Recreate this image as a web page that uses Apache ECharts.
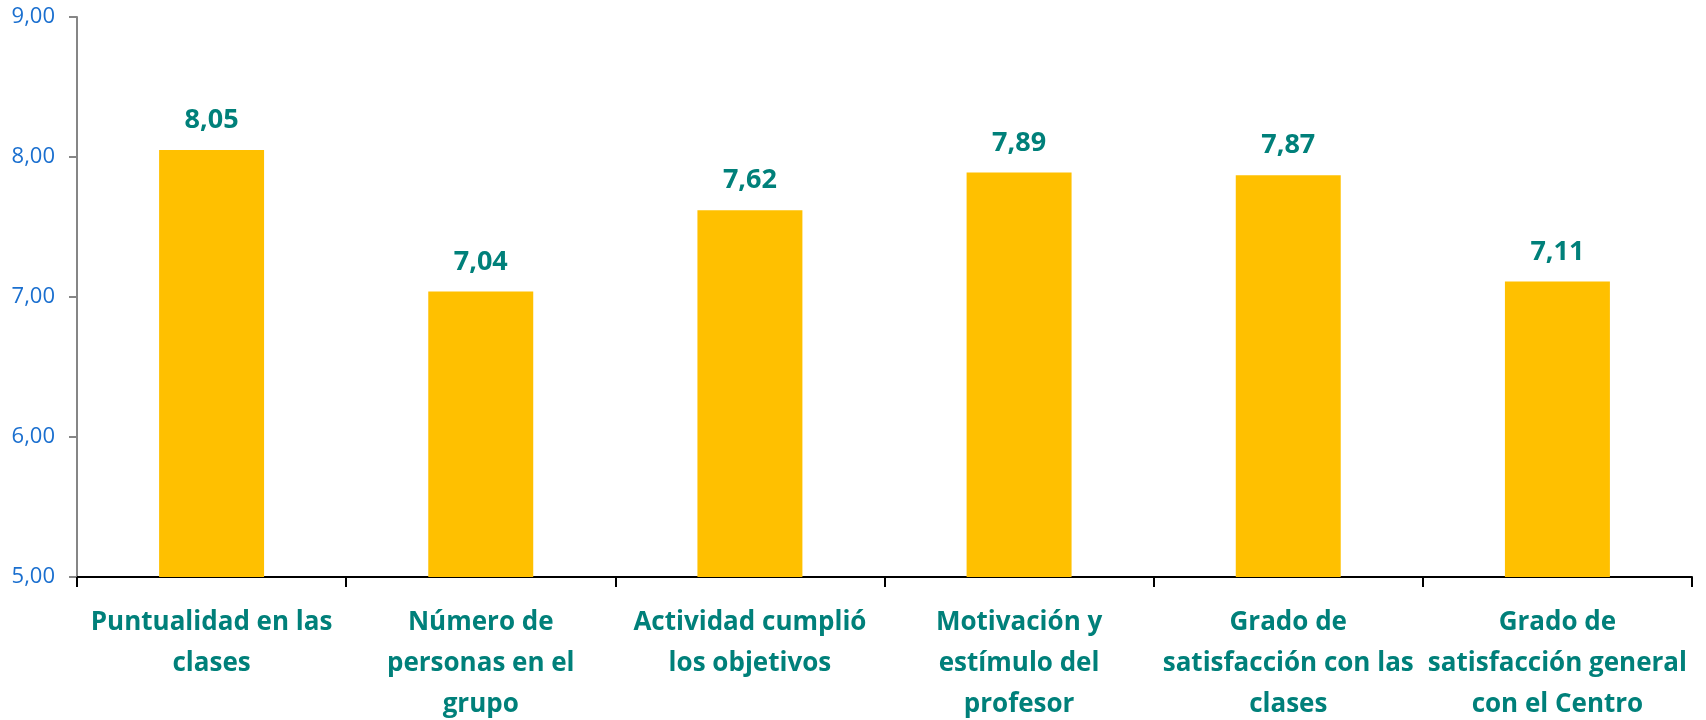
<!DOCTYPE html>
<html>
<head>
<meta charset="utf-8">
<script src="https://cdn.jsdelivr.net/npm/echarts@6/dist/echarts.min.js"></script>
<style>
  html, body { margin: 0; padding: 0; background: #fff; }
  #chart { width: 1706px; height: 720px; }
</style>
</head>
<body>
<div id="chart"></div>
<script>
// valoraciones medias por aspecto
const categories = [
  "Puntualidad en las\nclases",
  "Número de\npersonas en el\ngrupo",
  "Actividad cumplió\nlos objetivos",
  "Motivación y\nestímulo del\nprofesor",
  "Grado de\nsatisfacción con las\nclases",
  "Grado de\nsatisfacción general\ncon el Centro"
];
const values = [8.05, 7.04, 7.62, 7.89, 7.87, 7.11];
const yTicks = [5, 6, 7, 8, 9];

const fmt = (v) => v.toFixed(2).replace(".", ",");

const chart = echarts.init(document.getElementById("chart"));

const option = {
  animation: false,
  grid: { left: 77, right: 14, top: 17, bottom: 143, outerBoundsMode: "none" },
  xAxis: {
    type: "category",
    data: categories,
    axisLine: { lineStyle: { color: "#000", width: 2 } },
    axisTick: { show: true, length: 10, lineStyle: { color: "#000", width: 2 } },
    axisLabel: {
      interval: 0,
      margin: 25,
      color: "#00807a",
      fontFamily: "Open Sans",
      fontWeight: "bold",
      fontSize: 26,
      lineHeight: 41,
      align: "center"
    }
  },
  yAxis: {
    type: "value",
    min: yTicks[0],
    max: yTicks[yTicks.length - 1],
    interval: 1,
    splitLine: { show: false },
    axisLine: { show: true, lineStyle: { color: "#868686", width: 2 } },
    axisTick: { show: true, length: 8, lineStyle: { color: "#868686", width: 2 } },
    axisLabel: {
      margin: 22,
      color: "#1a6fcf",
      fontFamily: "Open Sans",
      fontSize: 22,
      formatter: (v) => fmt(v)
    }
  },
  series: [
    {
      type: "bar",
      data: values,
      barWidth: "39%",
      itemStyle: { color: "#ffc000" },
      label: {
        show: true,
        position: "top",
        distance: 16,
        color: "#00807a",
        fontFamily: "Open Sans",
        fontWeight: "bold",
        fontSize: 27,
        formatter: (p) => fmt(p.value)
      }
    }
  ]
};

chart.setOption(option);
window.addEventListener("resize", () => chart.resize());
</script>
</body>
</html>
